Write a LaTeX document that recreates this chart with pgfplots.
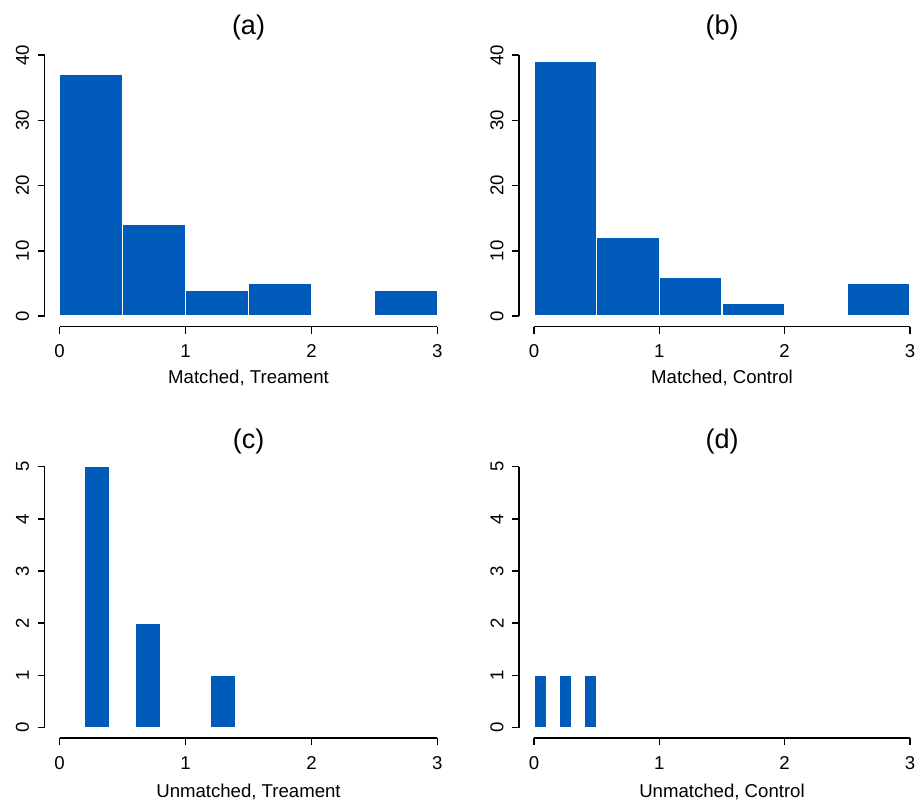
\documentclass[border=0pt]{standalone}
\usepackage{fontspec}
\setmainfont{Liberation Sans}
\usepackage{pgfplots}
\pgfplotsset{compat=1.18}
\definecolor{barblue}{RGB}{0,91,187}
\pgfplotsset{
  rhist/.style={
    scale only axis,
    width=204pt, height=140.9pt,
    clip=false,
    axis x line*=bottom, axis y line*=left,
    axis line style={draw=none},
    xmin=-0.12, xmax=3.12,
    xtick={0,1,2,3},
    tick align=outside,
    major tick length=3.5pt,
    tick style={black, line width=0.75pt},
    /pgf/number format/assume math mode=true,
    ticklabel style={font=\fontsize{9.3pt}{11pt}\selectfont},
    xticklabel style={anchor=center, yshift=-9pt},
    yticklabel style={rotate=90, anchor=center, yshift=7.5pt},
  },
  barstyle/.style={ybar interval, fill=barblue, draw=white, line width=0.7pt},
}
\begin{document}
\begin{tikzpicture}
% (a)
\begin{axis}[rhist, at={(22.25pt,239.25pt)}, anchor=south west,
  ymin=-1.6, ymax=41.6, ytick={0,10,20,30,40}]
\addplot[barstyle] coordinates {(0,37) (0.5,14) (1,4) (1.5,5) (2,0) (2.5,4) (3,4)};
\draw[line width=0.75pt] (axis cs:0,-1.6) -- (axis cs:3,-1.6);
\draw[line width=0.75pt] (axis cs:-0.12,0) -- (axis cs:-0.12,40);
\node[font=\fontsize{13.5pt}{16pt}\selectfont] at ([yshift=8.6pt]rel axis cs:0.5,1) {(a)};
\node[font=\fontsize{9.3pt}{11pt}\selectfont] at ([yshift=-25.75pt]rel axis cs:0.5,0) {Matched, Treament};
\end{axis}
% (b)
\begin{axis}[rhist, width=203pt, at={(259.5pt,239.25pt)}, anchor=south west,
  ymin=-1.6, ymax=41.6, ytick={0,10,20,30,40}]
\addplot[barstyle] coordinates {(0,39) (0.5,12) (1,6) (1.5,2) (2,0) (2.5,5) (3,5)};
\draw[line width=0.75pt] (axis cs:0,-1.6) -- (axis cs:3,-1.6);
\draw[line width=0.75pt] (axis cs:-0.12,0) -- (axis cs:-0.12,40);
\node[font=\fontsize{13.5pt}{16pt}\selectfont] at ([yshift=8.6pt]rel axis cs:0.5,1) {(b)};
\node[font=\fontsize{9.3pt}{11pt}\selectfont] at ([yshift=-25.75pt]rel axis cs:0.5,0) {Matched, Control};
\end{axis}
% (c)
\begin{axis}[rhist, at={(22.25pt,33.5pt)}, anchor=south west,
  ymin=-0.2, ymax=5.2, ytick={0,1,2,3,4,5}]
\addplot[barstyle] coordinates {(0.2,5) (0.4,0) (0.6,2) (0.8,0) (1.2,1) (1.4,0)};
\draw[line width=0.75pt] (axis cs:0,-0.2) -- (axis cs:3,-0.2);
\draw[line width=0.75pt] (axis cs:-0.12,0) -- (axis cs:-0.12,5);
\node[font=\fontsize{13.5pt}{16pt}\selectfont] at ([yshift=7.1pt]rel axis cs:0.5,1) {(c)};
\node[font=\fontsize{9.3pt}{11pt}\selectfont] at ([yshift=-26.85pt]rel axis cs:0.5,0) {Unmatched, Treament};
\end{axis}
% (d)
\begin{axis}[rhist, width=203pt, at={(259.5pt,33.5pt)}, anchor=south west,
  ymin=-0.2, ymax=5.2, ytick={0,1,2,3,4,5}]
\addplot[barstyle] coordinates {(0,1) (0.1,0) (0.2,1) (0.3,0) (0.4,1) (0.5,0)};
\draw[line width=0.75pt] (axis cs:0,-0.2) -- (axis cs:3,-0.2);
\draw[line width=0.75pt] (axis cs:-0.12,0) -- (axis cs:-0.12,5);
\node[font=\fontsize{13.5pt}{16pt}\selectfont] at ([yshift=7.1pt]rel axis cs:0.5,1) {(d)};
\node[font=\fontsize{9.3pt}{11pt}\selectfont] at ([yshift=-26.85pt]rel axis cs:0.5,0) {Unmatched, Control};
\end{axis}
\pgfresetboundingbox
\useasboundingbox (0,0) rectangle (459.5pt,402.5pt);
\end{tikzpicture}
\end{document}
